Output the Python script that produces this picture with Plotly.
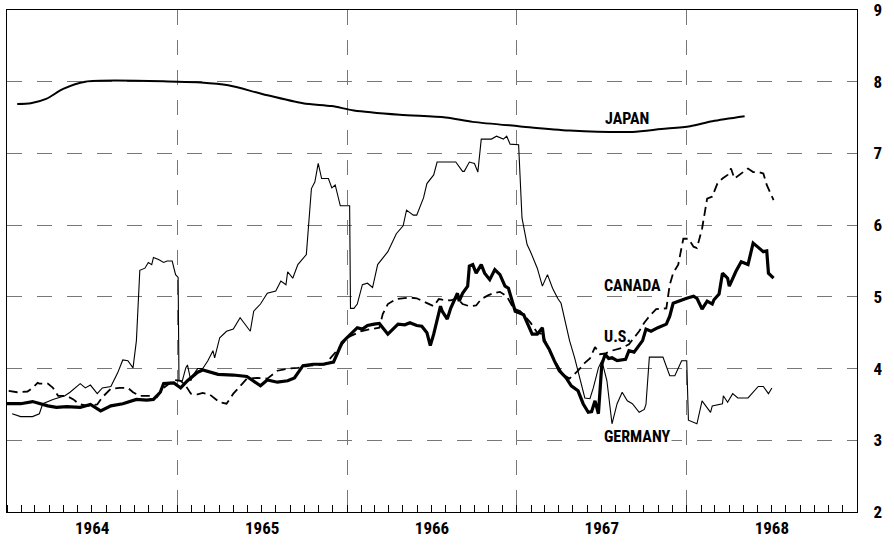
import datetime as dt
import plotly.graph_objects as go

# ---------------- data (decimal years, percent) ----------------
japan_t = [1964.06, 1964.14, 1964.23, 1964.33, 1964.46, 1965.00, 1965.14, 1965.30, 1965.50,
           1965.74, 1965.91, 1966.04, 1966.31, 1966.58, 1966.74, 1967.01, 1967.31, 1967.68,
           1967.85, 1968.02, 1968.15, 1968.34]
japan_v = [7.69, 7.70, 7.76, 7.90, 8.00, 8.00, 7.99, 7.95, 7.83,
           7.70, 7.66, 7.60, 7.54, 7.50, 7.44, 7.38, 7.32, 7.30,
           7.34, 7.38, 7.45, 7.52]

germany_t = [1964.03, 1964.08, 1964.15, 1964.19, 1964.21, 1964.27, 1964.34, 1964.37, 1964.43, 1964.46,
             1964.49, 1964.53, 1964.56, 1964.61, 1964.65, 1964.68, 1964.71, 1964.74, 1964.76, 1964.78,
             1964.81, 1964.83, 1964.85, 1964.86, 1964.89, 1964.92, 1964.94, 1964.97, 1964.99, 1965.005,
             1965.01, 1965.03, 1965.05, 1965.06, 1965.08, 1965.09, 1965.12, 1965.15, 1965.18, 1965.21,
             1965.22, 1965.25, 1965.29, 1965.33, 1965.37, 1965.40, 1965.43, 1965.45, 1965.49, 1965.53,
             1965.58, 1965.61, 1965.64, 1965.65, 1965.68, 1965.71, 1965.76, 1965.79, 1965.81, 1965.83,
             1965.85, 1965.89, 1965.91, 1965.93, 1965.96, 1966.015, 1966.02, 1966.04, 1966.06, 1966.09,
             1966.12, 1966.15, 1966.18, 1966.21, 1966.24, 1966.29, 1966.33, 1966.35, 1966.39, 1966.41,
             1966.45, 1966.47, 1966.51, 1966.53, 1966.64, 1966.68, 1966.69, 1966.72, 1966.75, 1966.77,
             1966.79, 1966.85, 1966.88, 1966.92, 1966.94, 1966.96, 1967.01, 1967.03, 1967.06, 1967.08,
             1967.12, 1967.15, 1967.18, 1967.21, 1967.24, 1967.26, 1967.28, 1967.31, 1967.34, 1967.37,
             1967.40, 1967.43, 1967.45, 1967.48, 1967.50, 1967.53, 1967.56, 1967.59, 1967.62, 1967.65,
             1967.68, 1967.72, 1967.75, 1967.76, 1967.78, 1967.86, 1967.90, 1967.93, 1967.97, 1968.00,
             1968.01, 1968.06, 1968.09, 1968.14, 1968.15, 1968.21, 1968.215, 1968.24, 1968.27, 1968.30,
             1968.36, 1968.42, 1968.45, 1968.48, 1968.50]
germany_v = [3.37, 3.33, 3.33, 3.37, 3.51, 3.57, 3.62, 3.67, 3.79, 3.73,
             3.77, 3.65, 3.73, 3.75, 3.94, 4.12, 4.11, 4.01, 4.39, 5.37,
             5.40, 5.48, 5.45, 5.55, 5.52, 5.48, 5.50, 5.50, 5.31, 5.27,
             3.83, 3.83, 4.01, 4.05, 3.83, 3.90, 4.00, 4.00, 4.11, 4.25,
             4.15, 4.43, 4.52, 4.55, 4.71, 4.62, 4.52, 4.80, 4.90, 5.05,
             5.08, 5.22, 5.17, 5.35, 5.26, 5.45, 5.59, 6.51, 6.60, 6.86,
             6.65, 6.65, 6.52, 6.56, 6.27, 6.27, 4.84, 4.84, 4.90, 5.17,
             5.19, 5.13, 5.45, 5.54, 5.63, 5.88, 5.99, 6.21, 6.14, 6.14,
             6.38, 6.58, 6.70, 6.88, 6.88, 6.75, 6.75, 6.88, 6.86, 6.74,
             7.20, 7.20, 7.24, 7.20, 7.24, 7.13, 7.12, 6.10, 5.73, 5.63,
             5.40, 5.15, 5.31, 5.12, 4.98, 4.91, 4.70, 4.39, 4.15, 3.87,
             3.59, 3.58, 3.73, 4.01, 4.11, 3.83, 3.23, 3.51, 3.67, 3.55,
             3.51, 3.39, 3.43, 3.50, 4.16, 4.16, 3.90, 3.90, 4.11, 4.11,
             3.28, 3.23, 3.55, 3.39, 3.48, 3.51, 3.62, 3.53, 3.65, 3.59,
             3.59, 3.75, 3.75, 3.65, 3.73]

us_t = [1964.00, 1964.08, 1964.15, 1964.24, 1964.29, 1964.35, 1964.43, 1964.49, 1964.55, 1964.61,
        1964.68, 1964.76, 1964.82, 1964.86, 1964.90, 1964.92, 1964.98, 1965.02, 1965.06, 1965.12,
        1965.15, 1965.24, 1965.33, 1965.41, 1965.49, 1965.53, 1965.59, 1965.65, 1965.69, 1965.72,
        1965.74, 1965.80, 1965.86, 1965.92, 1965.94, 1965.97, 1966.00, 1966.04, 1966.06, 1966.09,
        1966.12, 1966.16, 1966.19, 1966.21, 1966.24, 1966.27, 1966.30, 1966.34, 1966.37, 1966.41,
        1966.44, 1966.47, 1966.49, 1966.51, 1966.53, 1966.55, 1966.56, 1966.59, 1966.61, 1966.64,
        1966.65, 1966.66, 1966.68, 1966.71, 1966.72, 1966.74, 1966.76, 1966.79, 1966.81, 1966.84,
        1966.87, 1966.90, 1966.93, 1966.95, 1966.97, 1966.99, 1967.02, 1967.04, 1967.06, 1967.09,
        1967.12, 1967.15, 1967.16, 1967.19, 1967.22, 1967.25, 1967.29, 1967.32, 1967.36, 1967.39,
        1967.42, 1967.44, 1967.46, 1967.48, 1967.50, 1967.52, 1967.54, 1967.56, 1967.59, 1967.64,
        1967.66, 1967.69, 1967.74, 1967.76, 1967.79, 1967.83, 1967.88, 1967.90, 1967.92, 1967.95,
        1968.00, 1968.04, 1968.06, 1968.09, 1968.12, 1968.15, 1968.16, 1968.19, 1968.21, 1968.24,
        1968.25, 1968.29, 1968.32, 1968.36, 1968.39, 1968.42, 1968.45, 1968.47, 1968.48, 1968.51]
us_v = [3.51, 3.51, 3.54, 3.48, 3.46, 3.47, 3.46, 3.50, 3.41, 3.48,
        3.51, 3.57, 3.56, 3.57, 3.67, 3.79, 3.80, 3.73, 3.83, 3.95,
        3.98, 3.92, 3.91, 3.89, 3.76, 3.84, 3.81, 3.83, 3.87, 3.97,
        4.04, 4.06, 4.06, 4.09, 4.20, 4.36, 4.43, 4.52, 4.57, 4.55,
        4.60, 4.62, 4.63, 4.57, 4.48, 4.55, 4.62, 4.61, 4.64, 4.60,
        4.59, 4.50, 4.32, 4.48, 4.66, 4.87, 4.80, 4.69, 4.84, 4.98,
        5.05, 4.94, 5.05, 5.15, 5.43, 5.45, 5.33, 5.45, 5.33, 5.24,
        5.38, 5.31, 5.15, 5.12, 4.94, 4.80, 4.77, 4.75, 4.64, 4.48,
        4.48, 4.57, 4.39, 4.27, 4.11, 3.97, 3.87, 3.76, 3.69, 3.51,
        3.39, 3.40, 3.55, 3.37, 4.06, 4.20, 4.14, 4.15, 4.11, 4.13,
        4.25, 4.23, 4.39, 4.55, 4.52, 4.57, 4.62, 4.73, 4.91, 4.94,
        4.98, 5.01, 4.98, 4.83, 4.94, 4.90, 4.96, 5.04, 5.33, 5.26,
        5.15, 5.36, 5.49, 5.45, 5.75, 5.69, 5.63, 5.64, 5.33, 5.26]

canada_t = [1964.01, 1964.06, 1964.12, 1964.15, 1964.18, 1964.19, 1964.24, 1964.27, 1964.30, 1964.35,
            1964.39, 1964.42, 1964.47, 1964.53, 1964.56, 1964.61, 1964.66, 1964.71, 1964.74, 1964.78,
            1964.84, 1964.88, 1964.92, 1964.98, 1965.02, 1965.05, 1965.08, 1965.12, 1965.15, 1965.19,
            1965.25, 1965.29, 1965.33, 1965.37, 1965.41, 1965.47, 1965.53, 1965.59, 1965.65, 1965.71,
            1965.78, 1965.87, 1965.94, 1966.00, 1966.08, 1966.14, 1966.19, 1966.21, 1966.24, 1966.29,
            1966.37, 1966.41, 1966.48, 1966.51, 1966.54, 1966.56, 1966.61, 1966.65, 1966.68, 1966.72,
            1966.76, 1966.79, 1966.83, 1966.86, 1966.90, 1966.94, 1966.98, 1967.02, 1967.08, 1967.12,
            1967.15, 1967.19, 1967.24, 1967.27, 1967.31, 1967.36, 1967.40, 1967.43, 1967.46, 1967.49,
            1967.52, 1967.56, 1967.62, 1967.66, 1967.69, 1967.72, 1967.75, 1967.78, 1967.82, 1967.88,
            1967.90, 1967.92, 1967.95, 1967.98, 1968.01, 1968.04, 1968.06, 1968.09, 1968.12, 1968.15,
            1968.18, 1968.21, 1968.24, 1968.26, 1968.28, 1968.33, 1968.36, 1968.39, 1968.42, 1968.45,
            1968.47, 1968.51]
canada_v = [3.69, 3.67, 3.68, 3.73, 3.80, 3.79, 3.79, 3.73, 3.62, 3.62,
            3.57, 3.51, 3.48, 3.50, 3.60, 3.72, 3.73, 3.73, 3.67, 3.62,
            3.62, 3.60, 3.73, 3.84, 3.83, 3.76, 3.65, 3.64, 3.66, 3.64,
            3.53, 3.51, 3.65, 3.76, 3.86, 3.87, 3.86, 3.97, 4.00, 4.01,
            4.04, 4.06, 4.25, 4.43, 4.52, 4.55, 4.57, 4.76, 4.90, 4.97,
            4.99, 4.98, 4.91, 4.87, 4.97, 4.96, 4.95, 4.98, 4.90, 4.87,
            4.88, 4.97, 5.02, 5.05, 5.07, 5.01, 4.84, 4.80, 4.64, 4.50,
            4.48, 4.25, 4.04, 3.92, 3.86, 3.97, 4.08, 4.14, 4.30, 4.20,
            4.21, 4.25, 4.29, 4.34, 4.43, 4.52, 4.64, 4.73, 4.83, 4.84,
            5.17, 5.33, 5.45, 5.81, 5.81, 5.70, 5.68, 5.95, 6.37, 6.40,
            6.58, 6.65, 6.70, 6.79, 6.65, 6.74, 6.79, 6.74, 6.74, 6.72,
            6.56, 6.35]

labels = ["JAPAN", "CANADA", "U.S.", "GERMANY"]
label_t = [1967.65, 1967.68, 1967.59, 1967.71]
label_v = [7.49, 5.16, 4.45, 3.05]

y_ticks = [2, 3, 4, 5, 6, 7, 8, 9]


def to_date(t):
    year = int(t)
    start = dt.datetime(year, 1, 1)
    days = (dt.datetime(year + 1, 1, 1) - start).days
    return start + dt.timedelta(days=(t - year) * days)


FONT = "Liberation Sans Narrow, Arial Narrow, Roboto Condensed, DejaVu Sans Condensed, sans-serif"

fig = go.Figure()
fig.add_trace(go.Scatter(x=[to_date(t) for t in japan_t], y=japan_v, mode="lines",
                         line=dict(color="black", width=2.0, shape="spline", smoothing=0.8),
                         name="Japan"))
fig.add_trace(go.Scatter(x=[to_date(t) for t in germany_t], y=germany_v, mode="lines",
                         line=dict(color="black", width=1.1), name="Germany"))
fig.add_trace(go.Scatter(x=[to_date(t) for t in canada_t], y=canada_v, mode="lines",
                         line=dict(color="black", width=1.8, dash="9px,5px"), name="Canada"))
fig.add_trace(go.Scatter(x=[to_date(t) for t in us_t], y=us_v, mode="lines",
                         line=dict(color="black", width=3.2), name="U.S."))

for txt, t, v in zip(labels, label_t, label_v):
    fig.add_annotation(x=to_date(t), y=v, text=txt, showarrow=False,
                       font=dict(family=FONT, size=16, color="black", weight="bold"),
                       bgcolor="white" if txt == "GERMANY" else "rgba(0,0,0,0)")

fig.update_layout(
    width=894, height=547,
    margin=dict(l=7, r=37, t=10, b=35),
    paper_bgcolor="white", plot_bgcolor="white",
    showlegend=False,
    font=dict(family=FONT, color="black"),
)
fig.update_xaxes(
    type="date", automargin=False,
    range=[dt.datetime(1964, 1, 1), dt.datetime(1969, 1, 1)],
    tick0=dt.datetime(1964, 1, 1), dtick="M12",
    ticklabelmode="period", tickformat="%Y",
    tickfont=dict(family=FONT, size=17, color="black", weight="bold"),
    ticks="inside", ticklen=7, tickcolor="black", tickwidth=1,
    minor=dict(dtick="M1", ticks="inside", ticklen=7, tickcolor="black", tickwidth=1, showgrid=False),
    showgrid=True, gridcolor="#777", gridwidth=0.8, griddash="longdash",
    showline=True, linecolor="black", linewidth=1.2, mirror=True,
    zeroline=False,
)
fig.update_yaxes(
    range=[2, 9], side="right", automargin=False,
    tickvals=y_ticks, ticktext=[str(v) for v in y_ticks],
    tickfont=dict(family=FONT, size=17, color="black", weight="bold"),
    ticks="", ticklabelstandoff=12, ticklabeloverflow="allow",
    showgrid=True, gridcolor="#777", gridwidth=0.8, griddash="longdash",
    showline=True, linecolor="black", linewidth=1.2, mirror=True,
    zeroline=False,
)

fig.write_html("out.html", config={"displayModeBar": False},
               post_script="document.body.style.margin='0px';")
